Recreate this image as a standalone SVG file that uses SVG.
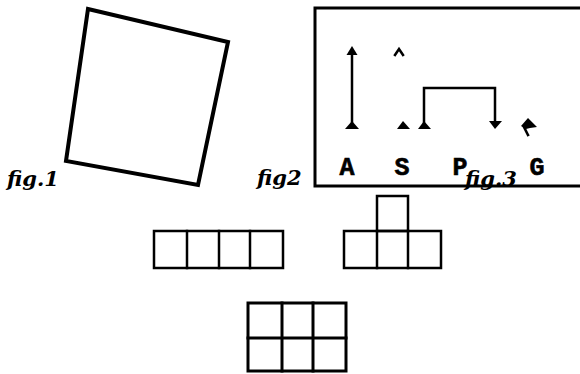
<svg xmlns="http://www.w3.org/2000/svg" width="580" height="374" viewBox="0 0 580 374">
<style>
.bg{fill:#fff}
.ln{fill:none;stroke:#000;stroke-linejoin:miter;stroke-linecap:square}
.hd{fill:#000;stroke:none}
.cap{font-family:"DejaVu Serif",serif;font-style:italic;font-weight:bold;font-size:21px;fill:#000}
.lbl{font-family:"Liberation Mono","DejaVu Sans Mono",monospace;font-weight:bold;font-size:25px;fill:#000;stroke:#000;stroke-width:0.6;text-anchor:middle}
</style>
<rect class="bg" x="0" y="0" width="580" height="374"/>
<g id="fig1">
<polygon class="ln" points="88,9 228,42 198,185 66,161" stroke-width="4" stroke-linejoin="round"/>
<text class="cap" x="7" y="186">fig.1</text>
</g>
<g id="fig2">
<text class="cap" x="257" y="185">fig2</text>
</g>
<g id="fig3">
<rect class="ln" x="315" y="8" width="280" height="178" stroke-width="3"/>
<text class="lbl" x="347" y="175">A</text>
<text class="lbl" x="402" y="175">S</text>
<text class="lbl" x="460" y="175">P</text>
<text class="lbl" x="537" y="175">G</text>
<text class="cap" x="465" y="186">fig.3</text>
</g>
<g id="connectors">
<line class="ln" x1="352" y1="52" x2="352" y2="124" stroke-width="2.5"/>
<polygon class="hd" points="352,46 346.5,55 357.5,55"/>
<polygon class="hd" points="352,121 345,129 359,129"/>
<polyline class="ln" points="395,55 399,49 403,55" stroke-width="2.5" stroke-linecap="butt"/>
<polygon class="hd" points="403,121 397,129 410,129"/>
<path class="ln" d="M424,126 V88 H495 V124" stroke-width="2.5"/>
<polygon class="hd" points="424,121 418,129 431,129"/>
<polygon class="hd" points="495,129 489,121 502,121"/>
<polygon class="hd" points="528,118 537,127 530,128 526,129 521,126"/>
<line class="ln" x1="524" y1="127" x2="528" y2="135" stroke-width="2.5" stroke-linecap="butt"/>
</g>
<g id="row4">
<rect class="ln" x="154" y="231" width="129" height="37" stroke-width="2.5"/>
<line class="ln" x1="187" y1="231" x2="187" y2="268" stroke-width="2.5"/>
<line class="ln" x1="219" y1="231" x2="219" y2="268" stroke-width="2.5"/>
<line class="ln" x1="250" y1="231" x2="250" y2="268" stroke-width="2.5"/>
</g>
<g id="tshape">
<rect class="ln" x="344" y="231" width="97" height="37" stroke-width="2.5"/>
<line class="ln" x1="377" y1="231" x2="377" y2="268" stroke-width="2.5"/>
<line class="ln" x1="408" y1="231" x2="408" y2="268" stroke-width="2.5"/>
<rect class="ln" x="377" y="196" width="31" height="35" stroke-width="2.5"/>
</g>
<g id="grid6">
<rect class="ln" x="248" y="303" width="98" height="68" stroke-width="3"/>
<line class="ln" x1="282" y1="303" x2="282" y2="371" stroke-width="3"/>
<line class="ln" x1="313" y1="303" x2="313" y2="371" stroke-width="3"/>
<line class="ln" x1="248" y1="338" x2="346" y2="338" stroke-width="3"/>
</g>
</svg>
